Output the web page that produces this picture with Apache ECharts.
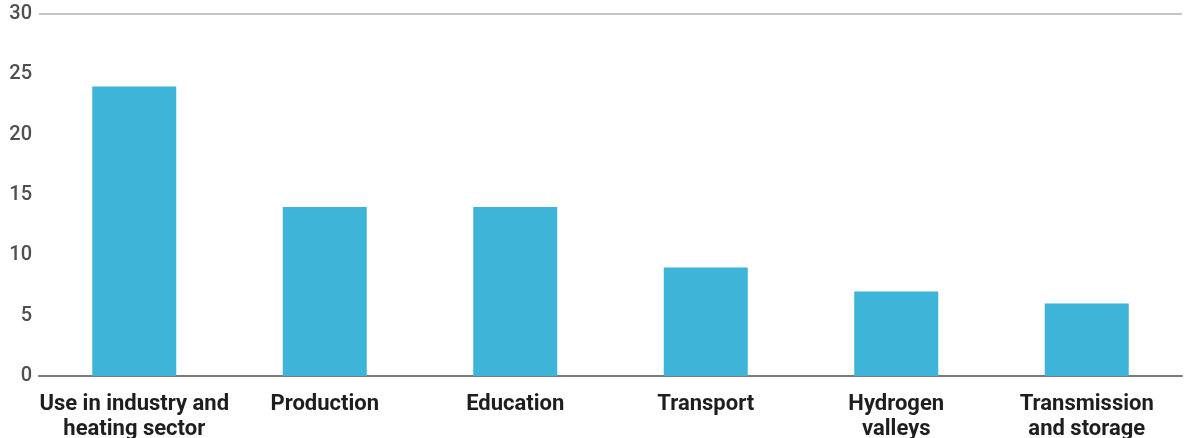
<!DOCTYPE html>
<html>
<head>
<meta charset="utf-8">
<title>Hydrogen projects by area</title>
<script src="https://cdn.jsdelivr.net/npm/echarts@6/dist/echarts.min.js"></script>
<style>
  html, body { margin: 0; padding: 0; background: #ffffff; }
  #chart { width: 1192px; height: 438px; }
</style>
</head>
<body>
<div id="chart"></div>
<script>
// Project areas and the number of projects in each
const categories = [
  'Use in industry and\nheating sector',
  'Production',
  'Education',
  'Transport',
  'Hydrogen\nvalleys',
  'Transmission\nand storage'
];
const projectCounts = [24, 14, 14, 9, 7, 6];
const yTicks = { min: 0, max: 30, interval: 5 };

const chart = echarts.init(document.getElementById('chart'), null, { renderer: 'canvas' });

chart.setOption({
  animation: false,
  grid: {
    left: 39, right: 10, top: 14, bottom: 62,
    containLabel: false,
    // keep the plot fixed; the second label line may run past the bottom edge
    outerBoundsMode: 'none'
  },
  xAxis: {
    type: 'category',
    data: categories,
    axisTick: { show: false },
    axisLine: { show: true, lineStyle: { color: '#7a7a7a', width: 2 } },
    axisLabel: {
      interval: 0,
      margin: 16,
      color: '#1e1e1e',
      fontFamily: 'Roboto',
      fontWeight: 'bold',
      fontSize: 22,
      lineHeight: 25
    }
  },
  yAxis: {
    type: 'value',
    min: yTicks.min,
    max: yTicks.max,
    interval: yTicks.interval,
    axisLine: { show: false },
    axisTick: { show: false },
    axisLabel: {
      margin: 7,
      color: '#4f4f4f',
      fontFamily: 'Roboto',
      fontWeight: 500,
      fontSize: 20
    },
    splitLine: {
      show: true,
      lineStyle: {
        // only the top line (30) is visible; the zero line is the x axis
        color: ['rgba(0,0,0,0)', 'rgba(0,0,0,0)', 'rgba(0,0,0,0)', 'rgba(0,0,0,0)',
                'rgba(0,0,0,0)', 'rgba(0,0,0,0)', '#c6c6c6'],
        width: 2
      }
    }
  },
  series: [{
    type: 'bar',
    data: projectCounts,
    barWidth: 84,
    itemStyle: { color: '#3db4d8' }
  }]
});
</script>
</body>
</html>
